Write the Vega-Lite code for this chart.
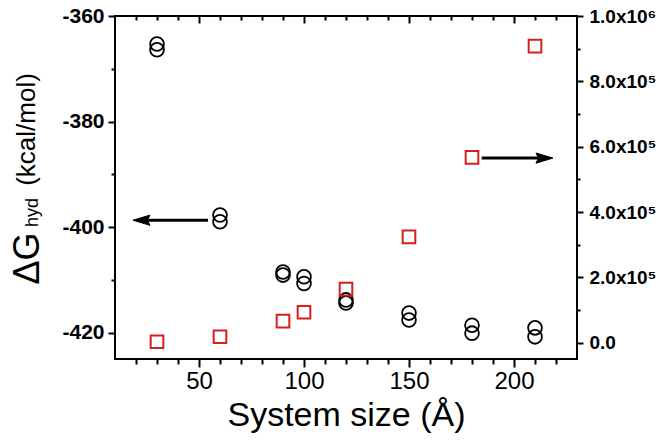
{
  "$schema": "https://vega.github.io/schema/vega-lite/v6.json",
  "width": 462,
  "height": 343,
  "autosize": {"type": "none"},
  "padding": {"left": 115, "top": 16, "right": 87, "bottom": 81},
  "background": "white",
  "config": {
    "font": "Liberation Sans",
    "axis": {"grid": false, "domain": false, "tickColor": "black", "labelColor": "black", "titleColor": "black", "tickWidth": 2, "labelFont": "Liberation Sans", "titleFont": "Liberation Sans"},
    "view": {"stroke": "black", "strokeWidth": 2}
  },
  "datasets": {
    "dg": [
      {"size": 30, "dG": -365.3}, {"size": 30, "dG": -366.4},
      {"size": 60, "dG": -397.7}, {"size": 60, "dG": -399.0},
      {"size": 90, "dG": -408.5}, {"size": 90, "dG": -409.1},
      {"size": 100, "dG": -409.4}, {"size": 100, "dG": -410.7},
      {"size": 120, "dG": -413.8}, {"size": 120, "dG": -414.4},
      {"size": 150, "dG": -416.3}, {"size": 150, "dG": -417.6},
      {"size": 180, "dG": -418.6}, {"size": 180, "dG": -420.1},
      {"size": 210, "dG": -419.1}, {"size": 210, "dG": -420.8}
    ],
    "n": [
      {"size": 30, "N": 2700}, {"size": 60, "N": 18000}, {"size": 90, "N": 66000},
      {"size": 100, "N": 93000}, {"size": 120, "N": 164000}, {"size": 150, "N": 324000},
      {"size": 180, "N": 567000}, {"size": 210, "N": 908000}
    ],
    "leftArrow": [{"xtip": 22.6, "xtail": 54.3, "y": -398.7}],
    "rightArrow": [{"xtip": 214.5, "xtail": 184.6, "y": 565000}]
  },
  "layer": [
    {
      "data": {"name": "dg"},
      "mark": {"type": "point", "shape": "circle", "filled": false, "stroke": "black", "strokeWidth": 1.8, "size": 190, "opacity": 1},
      "encoding": {
        "x": {"field": "size", "type": "quantitative", "scale": {"domain": [10, 230], "nice": false, "zero": false},
          "axis": {"orient": "bottom", "values": [50, 100, 150, 200], "tickSize": 8, "labelFontSize": 24, "labelPadding": 2, "title": "System size (Å)", "titleFontSize": 34, "titleFontWeight": "normal", "titleY": 56, "titleBaseline": "middle"}},
        "y": {"field": "dG", "type": "quantitative", "scale": {"domain": [-425, -360], "nice": false, "zero": false},
          "axis": {"orient": "left", "values": [-420, -400, -380, -360], "tickSize": 7, "labelFontSize": 21, "labelFontWeight": "bold", "labelPadding": 4, "labelExpr": "'-' + abs(datum.value)", "title": "ΔG", "titleFontSize": 36, "titleFontWeight": "normal", "titleX": -88, "titleY": 242, "titleAngle": 270, "titleAlign": "center", "titleBaseline": "middle"}}
      }
    },
    {
      "data": {"name": "n"},
      "mark": {"type": "point", "shape": "square", "filled": false, "stroke": "#d51f1f", "strokeWidth": 2, "size": 160, "opacity": 1},
      "encoding": {
        "x": {"field": "size", "type": "quantitative", "scale": {"domain": [10, 230], "nice": false, "zero": false},
          "axis": {"orient": "bottom", "values": [20, 30, 40, 60, 70, 80, 90, 110, 120, 130, 140, 160, 170, 180, 190, 210, 220], "tickSize": 5, "labels": false, "title": null}},
        "y": {"field": "N", "type": "quantitative", "scale": {"domain": [-50000, 1000000], "nice": false, "zero": false},
          "axis": {"orient": "right", "values": [0, 200000, 400000, 600000, 800000, 1000000], "tickSize": 6, "labelFontSize": 19, "labelFontWeight": "bold", "labelPadding": 6, "labelExpr": "datum.value == 0 ? '0.0' : (datum.value == 1000000 ? '1.0x10⁶' : format(datum.value / 100000, '.1f') + 'x10⁵')", "title": null}}
      }
    },
    {
      "data": {"name": "leftArrow"},
      "mark": {"type": "rule", "stroke": "black", "strokeWidth": 3},
      "encoding": {
        "x": {"field": "xtip", "type": "quantitative", "scale": {"domain": [10, 230], "nice": false, "zero": false},
          "axis": {"orient": "top", "values": [50, 100, 150, 200], "tickSize": -7, "labels": false, "title": null}},
        "x2": {"field": "xtail"},
        "y": {"field": "y", "type": "quantitative", "scale": {"domain": [-425, -360], "nice": false, "zero": false},
          "axis": {"orient": "left", "values": [-410, -390, -370], "tickSize": 4, "labels": false, "title": "hyd", "titleFontSize": 18, "titleFontWeight": "normal", "titleX": -83, "titleY": 196, "titleAngle": 270, "titleAlign": "center", "titleBaseline": "middle"}}
      }
    },
    {
      "data": {"name": "leftArrow"},
      "mark": {"type": "point", "shape": "M -1 0 L 1 -0.6 L 0.7 0 L 1 0.6 Z", "filled": true, "fill": "black", "stroke": "black", "strokeWidth": 1, "size": 289, "opacity": 1},
      "encoding": {
        "x": {"field": "xtip", "type": "quantitative", "scale": {"domain": [10, 230], "nice": false, "zero": false},
          "axis": {"orient": "top", "values": [20, 30, 40, 60, 70, 80, 90, 110, 120, 130, 140, 160, 170, 180, 190, 210, 220], "tickSize": -4, "labels": false, "title": null}},
        "y": {"field": "y", "type": "quantitative", "scale": {"domain": [-425, -360], "nice": false, "zero": false},
          "axis": {"orient": "left", "ticks": false, "labels": false, "title": "(kcal/mol)", "titleFontSize": 26, "titleFontWeight": "normal", "titleX": -89, "titleY": 113, "titleAngle": 270, "titleAlign": "center", "titleBaseline": "middle"}}
      }
    },
    {
      "data": {"name": "rightArrow"},
      "mark": {"type": "rule", "stroke": "black", "strokeWidth": 3},
      "encoding": {
        "x": {"field": "xtail", "type": "quantitative", "scale": {"domain": [10, 230], "nice": false, "zero": false}, "axis": null},
        "x2": {"field": "xtip"},
        "y": {"field": "y", "type": "quantitative", "scale": {"domain": [-50000, 1000000], "nice": false, "zero": false},
          "axis": {"orient": "right", "values": [100000, 300000, 500000, 700000, 900000], "tickSize": 3, "labels": false, "title": null}}
      }
    },
    {
      "data": {"name": "rightArrow"},
      "mark": {"type": "point", "shape": "M 1 0 L -1 -0.6 L -0.7 0 L -1 0.6 Z", "filled": true, "fill": "black", "stroke": "black", "strokeWidth": 1, "size": 289, "opacity": 1},
      "encoding": {
        "x": {"field": "xtip", "type": "quantitative", "scale": {"domain": [10, 230], "nice": false, "zero": false}, "axis": null},
        "y": {"field": "y", "type": "quantitative", "scale": {"domain": [-50000, 1000000], "nice": false, "zero": false}, "axis": null}
      }
    }
  ],
  "resolve": {"scale": {"y": "independent"}, "axis": {"x": "independent", "y": "independent"}}
}
